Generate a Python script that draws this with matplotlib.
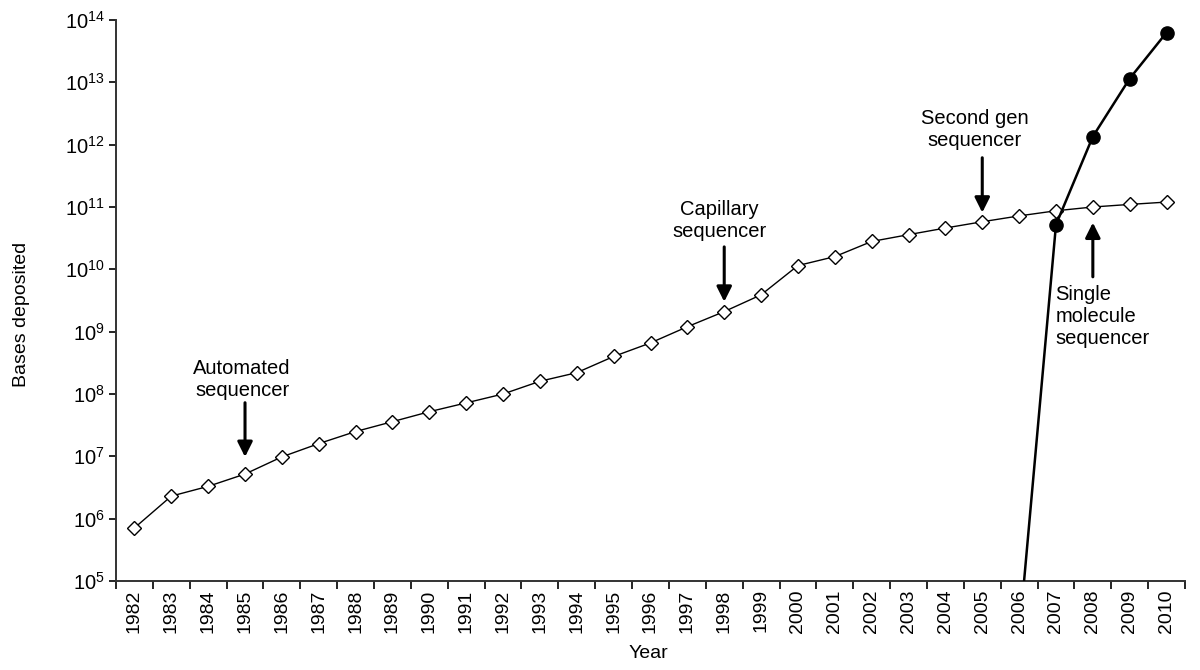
import numpy as np
import matplotlib
matplotlib.use("Agg")
import matplotlib.pyplot as plt
from matplotlib import ticker

plt.rcParams['font.family'] = ['Liberation Sans', 'DejaVu Sans']
plt.rcParams['mathtext.default'] = 'regular'

years = list(range(1982, 2011))
year_labels = [str(y) for y in years]
bases_deposited = [7.1e5, 2.3e6, 3.3e6, 5.2e6, 9.8e6, 1.6e7, 2.5e7, 3.6e7, 5.2e7, 7.2e7,
                   1.0e8, 1.6e8, 2.2e8, 4.0e8, 6.6e8, 1.2e9, 2.1e9, 3.9e9, 1.15e10, 1.6e10,
                   2.8e10, 3.6e10, 4.6e10, 5.8e10, 7.2e10, 8.7e10, 1.0e11, 1.1e11, 1.2e11]
nextgen_years = [2006, 2007, 2008, 2009, 2010]
nextgen_bases = [1.3e4, 5.2e10, 1.35e12, 1.15e13, 6.3e13]

annot_texts = ["Automated\nsequencer", "Capillary\nsequencer",
               "Second gen\nsequencer", "Single\nmolecule\nsequencer"]
annot_years = [1985, 1998, 2005, 2008]

# layout (log10 positions of arrow tip, arrow tail, text centre; text x offset)
arrow_tip = [6.99, 9.48, 10.91, 10.75]
arrow_tail = [7.86, 10.36, 11.79, 9.88]
text_y = [8.234, 10.787, 12.247, 9.246]
text_dx = [-0.08, -0.14, -0.2, -1.02]
text_ha = ['center', 'center', 'center', 'left']

fig = plt.figure(figsize=(12, 6.7), dpi=100)
ax = fig.add_axes([116/1200, 1 - 581/670, (1185 - 116)/1200, (581 - 20)/670])

x = np.arange(len(years))
ax.plot(x, bases_deposited, color='black', lw=1.0, marker='D', ms=7.5,
        mfc='white', mec='black', mew=1.0, zorder=3)
xn = [years.index(y) for y in nextgen_years]
ax.plot(xn, nextgen_bases, color='black', lw=1.8, marker='o', ms=9.5,
        mfc='black', mec='black', zorder=4)

ax.set_yscale('log')
ax.set_ylim(1e5, 1e14)
ax.set_xlim(-0.5, len(years) - 0.5)
ax.yaxis.set_major_locator(ticker.LogLocator(base=10, numticks=20))
ax.yaxis.set_minor_locator(ticker.NullLocator())
ax.yaxis.set_major_formatter(ticker.FuncFormatter(
    lambda v, p: r'$10^{%d}$' % int(round(np.log10(v)))))

ax.set_xticks(np.arange(-0.5, len(years), 1.0))
ax.set_xticklabels([])
ax.set_xticks(x, minor=True)
ax.set_xticklabels(year_labels, minor=True, rotation=90, fontsize=14)
ax.tick_params(axis='x', which='major', length=6, width=1.2, direction='out')
ax.tick_params(axis='x', which='minor', length=0, pad=6)
ax.tick_params(axis='y', which='major', length=5, width=1.2, direction='out',
               labelsize=14.5, pad=3)

for s in ['top', 'right']:
    ax.spines[s].set_visible(False)
for s in ['left', 'bottom']:
    ax.spines[s].set_linewidth(1.4)
    ax.spines[s].set_color('#333333')

fig.text(648/1200, 1 - 653/670, 'Year', ha='center', va='center', fontsize=14)
fig.text(22/1200, 1 - 314/670, 'Bases deposited', ha='center', va='center',
         rotation=90, fontsize=14)

arrow_kw = dict(arrowstyle='-|>,head_length=0.9,head_width=0.45', lw=2.2, color='black',
                shrinkA=0, shrinkB=0)
for text, yr, tip, tail, ty, dx, ha in zip(annot_texts, annot_years, arrow_tip,
                                            arrow_tail, text_y, text_dx, text_ha):
    xi = years.index(yr)
    ax.annotate('', xy=(xi, 10**tip), xytext=(xi, 10**tail), arrowprops=arrow_kw)
    ax.text(xi + dx, 10**ty, text, ha=ha, va='center', fontsize=14.5,
            linespacing=1.18)

fig.savefig('out.png', dpi=100)
